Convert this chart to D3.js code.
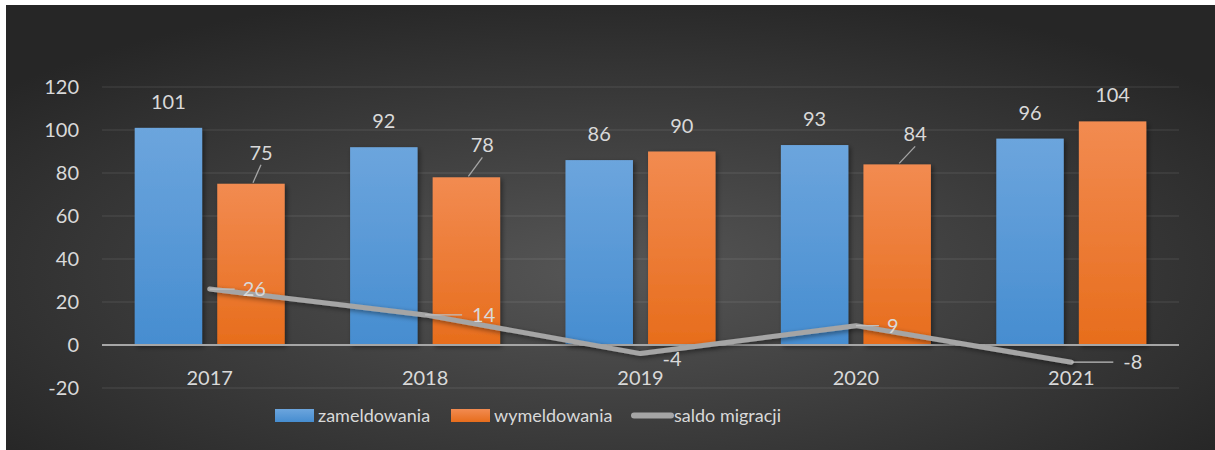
<!DOCTYPE html>
<html>
<head>
<meta charset="utf-8">
<title>Migracje</title>
<style>
  body { margin: 0; background: #fff; }
  text { font-family: Lato, "Open Sans", sans-serif; }
</style>
</head>
<body>
<script src="https://d3js.org/d3.v7.min.js"></script>
<script>

var years = ["2017", "2018", "2019", "2020", "2021"];
var zameldowania = [101, 92, 86, 93, 96];
var wymeldowania = [75, 78, 90, 84, 104];
var saldo = [26, 14, -4, 9, -8];
var yTicks = [-20, 0, 20, 40, 60, 80, 100, 120];
var seriesNames = ["zameldowania", "wymeldowania", "saldo migracji"];

var W = 1215, H = 450;

var svg = d3.select("body").append("svg")
    .attr("width", W)
    .attr("height", H);

var defs = svg.append("defs");

// background
var bg = defs.append("radialGradient").attr("id", "bg")
    .attr("cx", "50%").attr("cy", "60%").attr("r", "65%");
bg.append("stop").attr("offset", "0%").attr("stop-color", "#565656");
bg.append("stop").attr("offset", "100%").attr("stop-color", "#262626");

var gBlue = defs.append("linearGradient").attr("id", "gBlue")
    .attr("x1", 0).attr("y1", 0).attr("x2", 0).attr("y2", 1);
gBlue.append("stop").attr("offset", "0%").attr("stop-color", "#6ca5dd");
gBlue.append("stop").attr("offset", "100%").attr("stop-color", "#468dd0");

var gOrange = defs.append("linearGradient").attr("id", "gOrange")
    .attr("x1", 0).attr("y1", 0).attr("x2", 0).attr("y2", 1);
gOrange.append("stop").attr("offset", "0%").attr("stop-color", "#f28b51");
gOrange.append("stop").attr("offset", "100%").attr("stop-color", "#e76d1c");

var shadow = defs.append("filter").attr("id", "shadow")
    .attr("x", "-20%").attr("y", "-20%").attr("width", "140%").attr("height", "140%");
shadow.append("feDropShadow")
    .attr("dx", 2).attr("dy", 2).attr("stdDeviation", 2.5)
    .attr("flood-color", "#000").attr("flood-opacity", 0.45);

svg.append("rect")
    .attr("x", 6).attr("y", 5)
    .attr("width", W - 6).attr("height", H - 5)
    .attr("fill", "url(#bg)");

var left = 102, right = 1179;

var y = d3.scaleLinear().domain([-20, 120]).range([388, 87]);

var x = d3.scaleBand().domain(years).range([left, right]).padding(0);
var inner = d3.scaleBand().domain([0, 1])
    .range([x.bandwidth() / 2 - 75, x.bandwidth() / 2 + 75])
    .paddingInner(0.183);

// grid
svg.append("g").selectAll("line")
    .data(yTicks.filter(function(d){ return d !== 0; }))
    .enter().append("line")
    .attr("x1", left).attr("x2", right)
    .attr("y1", function(d){ return y(d); })
    .attr("y2", function(d){ return y(d); })
    .attr("stroke", "rgba(255,255,255,0.12)")
    .attr("stroke-width", 1.2);

// y labels
svg.append("g").selectAll("text")
    .data(yTicks)
    .enter().append("text")
    .attr("x", 79)
    .attr("y", function(d){ return y(d); })
    .attr("dy", "0.35em")
    .attr("text-anchor", "end")
    .attr("fill", "#d9d9d9")
    .attr("font-size", 20)
    .text(function(d){ return d; });

// bars
var series = [
    { values: zameldowania, fill: "url(#gBlue)" },
    { values: wymeldowania, fill: "url(#gOrange)" }
];

series.forEach(function(s, si){
    svg.append("g").attr("filter", "url(#shadow)")
      .selectAll("rect")
      .data(s.values)
      .enter().append("rect")
      .attr("x", function(d, i){ return x(years[i]) + inner(si); })
      .attr("width", inner.bandwidth())
      .attr("y", function(d){ return y(d); })
      .attr("height", function(d){ return y(0) - y(d); })
      .attr("fill", s.fill);
});

// zero axis
svg.append("line")
    .attr("x1", left).attr("x2", right)
    .attr("y1", y(0)).attr("y2", y(0))
    .attr("stroke", "#a6a6a6")
    .attr("stroke-width", 2);

// x labels
svg.append("g").selectAll("text")
    .data(years)
    .enter().append("text")
    .attr("x", function(d){ return x(d) + x.bandwidth() / 2; })
    .attr("y", 385)
    .attr("text-anchor", "middle")
    .attr("fill", "#d9d9d9")
    .attr("font-size", 20)
    .text(function(d){ return d; });

// bar labels; a few are moved up with a leader line
var barLabelShift = { "1-0": [10, -31], "1-1": [16, -32], "1-3": [18, -30] };

series.forEach(function(s, si){
    s.values.forEach(function(v, i){
        var cx = x(years[i]) + inner(si) + inner.bandwidth() / 2;
        var top = y(v);
        var sh = barLabelShift[si + "-" + i];
        if (sh) {
            svg.append("line")
                .attr("x1", cx + 2).attr("y1", top - 1)
                .attr("x2", cx + sh[0]).attr("y2", top + sh[1] + 12)
                .attr("stroke", "#a6a6a6").attr("stroke-width", 1.3);
            svg.append("text")
                .attr("x", cx + sh[0]).attr("y", top + sh[1])
                .attr("dy", "0.35em")
                .attr("text-anchor", "middle")
                .attr("fill", "#d9d9d9")
                .attr("font-size", 20)
                .text(v);
        } else {
            svg.append("text")
                .attr("x", cx).attr("y", top - 26)
                .attr("dy", "0.35em")
                .attr("text-anchor", "middle")
                .attr("fill", "#d9d9d9")
                .attr("font-size", 20)
                .text(v);
        }
    });
});

// saldo line
var line = d3.line()
    .x(function(d, i){ return x(years[i]) + x.bandwidth() / 2; })
    .y(function(d){ return y(d); });

svg.append("path")
    .datum(saldo)
    .attr("d", line)
    .attr("fill", "none")
    .attr("stroke", "#a5a5a5")
    .attr("stroke-width", 5)
    .attr("stroke-linecap", "round")
    .attr("stroke-linejoin", "round")
    .attr("filter", "url(#shadow)");

// saldo labels: [leader length, label dx, label dy]
var saldoLabel = [[25, 33, 0], [37, 47, 0], [0, 22, 5], [23, 31, 0], [42, 52, 0]];

saldo.forEach(function(v, i){
    var px = x(years[i]) + x.bandwidth() / 2;
    var py = y(v);
    var o = saldoLabel[i];
    if (o[0] > 0) {
        svg.append("line")
            .attr("x1", px).attr("y1", py)
            .attr("x2", px + o[0]).attr("y2", py)
            .attr("stroke", "#bfbfbf").attr("stroke-width", 1.3);
    }
    svg.append("text")
        .attr("x", px + o[1]).attr("y", py + o[2])
        .attr("dy", "0.35em")
        .attr("fill", "#d9d9d9")
        .attr("font-size", 20)
        .text(v);
});

// legend
var legend = svg.append("g");
var legX = [275, 451, 631];
var legFill = ["url(#gBlue)", "url(#gOrange)", null];

seriesNames.forEach(function(name, i){
    if (legFill[i]) {
        legend.append("rect")
            .attr("x", legX[i]).attr("y", 409)
            .attr("width", 39).attr("height", 13)
            .attr("fill", legFill[i]);
    } else {
        legend.append("line")
            .attr("x1", legX[i] + 3).attr("x2", legX[i] + 40)
            .attr("y1", 415.5).attr("y2", 415.5)
            .attr("stroke", "#a5a5a5")
            .attr("stroke-width", 6)
            .attr("stroke-linecap", "round");
    }
    legend.append("text")
        .attr("x", legX[i] + 43)
        .attr("y", 415.5)
        .attr("dy", "0.35em")
        .attr("fill", "#d9d9d9")
        .attr("font-size", 18)
        .text(name);
});

</script>
</body>
</html>
